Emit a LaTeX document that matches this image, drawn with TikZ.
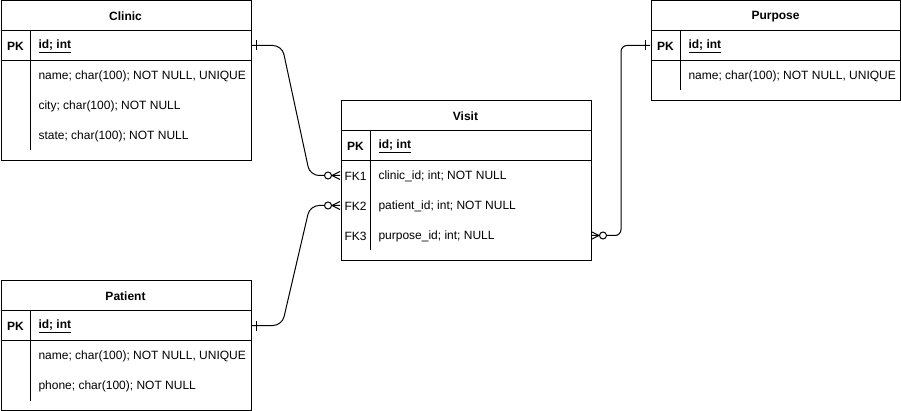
\documentclass[tikz,border=0pt]{standalone}
\usepackage{fontspec}
\setmainfont{Liberation Sans}
\begin{document}
\begin{tikzpicture}[x=1pt,y=-1pt,line width=1pt,
  tbl/.style={draw=black,fill=white,anchor=north west,inner sep=0pt},
  ttl/.style={font=\fontsize{12}{14}\selectfont\bfseries,yshift=-1pt},
  keyc/.style={font=\fontsize{12}{14}\selectfont,yshift=-1pt},
  keyb/.style={font=\fontsize{12}{14}\selectfont\bfseries,yshift=-1pt},
  fld/.style={font=\fontsize{12}{14}\selectfont,anchor=west,inner sep=0pt,yshift=-1pt},
  fldb/.style={fld,font=\fontsize{12}{14}\selectfont\bfseries},
  rowbox/.style={minimum width=250pt,minimum height=30pt,inner sep=0pt},
  conn/.style={draw=black,line width=1pt},
  circ/.style={draw=black,fill=white,line width=1pt}]
\useasboundingbox (0,0) rectangle (901,411);

% ---------- Clinic ----------
\node[tbl,minimum width=250pt,minimum height=160pt] (clinic) at (0.5,0.5) {};
\node[ttl] (clinict) at (125.5,15.5) {Clinic};
\draw (0.5,30.5) -- (250.5,30.5);
\draw (0.5,60.5) -- (250.5,60.5);
\draw (30.5,30.5) -- (30.5,150.5);
\node[rowbox] (clinicpk) at (125.5,45.5) {};
\node[keyb] at (15.5,45.5) {PK};
\node[fldb] at (38,45.5) {\underline{id; int}};
\node[fld] at (38,75.5) {name; char(100); NOT NULL, UNIQUE};
\node[fld] at (38,105.5) {city; char(100); NOT NULL};
\node[fld] at (38,135.5) {state; char(100); NOT NULL};

% ---------- Patient ----------
\node[tbl,minimum width=250pt,minimum height=129pt] (patient) at (0.5,280.5) {};
\node[ttl] (patientt) at (125.5,295.5) {Patient};
\draw (0.5,310.5) -- (250.5,310.5);
\draw (0.5,340.5) -- (250.5,340.5);
\draw (30.5,310.5) -- (30.5,400.5);
\node[rowbox] (patientpk) at (125.5,325.5) {};
\node[keyb] at (15.5,325.5) {PK};
\node[fldb] at (38,325.5) {\underline{id; int}};
\node[fld] at (38,355.5) {name; char(100); NOT NULL, UNIQUE};
\node[fld] at (38,385.5) {phone; char(100); NOT NULL};

% ---------- Purpose ----------
\node[tbl,minimum width=249.5pt,minimum height=100pt] (purpose) at (650.5,0.5) {};
\node[ttl] (purposet) at (775.5,15.5) {Purpose};
\draw (650.5,30.5) -- (900,30.5);
\draw (650.5,60.5) -- (900,60.5);
\draw (680.5,30.5) -- (680.5,90.5);
\node[rowbox] (purposepk) at (775.5,45.5) {};
\node[keyb] at (665.5,45.5) {PK};
\node[fldb] at (688,45.5) {\underline{id; int}};
\node[fld] at (688,75.5) {name; char(100); NOT NULL, UNIQUE};

% ---------- Visit ----------
\node[tbl,minimum width=250pt,minimum height=160pt] (visit) at (340.5,100.5) {};
\node[ttl] (visitt) at (465.5,115.5) {Visit};
\draw (340.5,130.5) -- (590.5,130.5);
\draw (340.5,160.5) -- (590.5,160.5);
\draw (370.5,130.5) -- (370.5,250.5);
\node[rowbox] (visitpk) at (465.5,145.5) {};
\node[rowbox] (fk1) at (465.5,175.5) {};
\node[rowbox] (fk2) at (465.5,205.5) {};
\node[rowbox] (fk3) at (465.5,235.5) {};
\node[keyb] at (355.5,145.5) {PK};
\node[fldb] at (378,145.5) {\underline{id; int}};
\node[keyc] at (355.5,175.5) {FK1};
\node[keyc] at (355.5,205.5) {FK2};
\node[keyc] at (355.5,235.5) {FK3};
\node[fld] at (378,175.5) {clinic\_id; int; NOT NULL};
\node[fld] at (378,205.5) {patient\_id; int; NOT NULL};
\node[fld] at (378,235.5) {purpose\_id; int; NULL};

% ---------- Connectors ----------
\draw[conn,rounded corners=9pt] (clinicpk.east) -- ++(31,0) -- ([xshift=-30pt]fk1.west) -- (fk1.west);
\draw[conn,rounded corners=9pt] (patientpk.east) -- ++(31,0) -- ([xshift=-30pt]fk2.west) -- (fk2.west);
\draw[conn,rounded corners=6pt] (fk3.east) -- ++(30,0) |- (purposepk.west);

% mandatory one ticks
\draw[conn] ([xshift=5pt,yshift=-5pt]clinicpk.east) -- ([xshift=5pt,yshift=5pt]clinicpk.east);
\draw[conn] ([xshift=5pt,yshift=-5pt]patientpk.east) -- ([xshift=5pt,yshift=5pt]patientpk.east);
\draw[conn] ([xshift=-5pt,yshift=-5pt]purposepk.west) -- ([xshift=-5pt,yshift=5pt]purposepk.west);

% zero-to-many ends
\foreach \f in {fk1,fk2}{
  \draw[conn] ([yshift=-4pt]\f.west) -- ([xshift=-8pt]\f.west) -- ([yshift=4pt]\f.west);
  \draw[circ] ([xshift=-12pt]\f.west) circle[radius=3.5pt];
}
\draw[conn] ([yshift=-4pt]fk3.east) -- ([xshift=8pt]fk3.east) -- ([yshift=4pt]fk3.east);
\draw[circ] ([xshift=12pt]fk3.east) circle[radius=3.5pt];
\end{tikzpicture}
\end{document}
